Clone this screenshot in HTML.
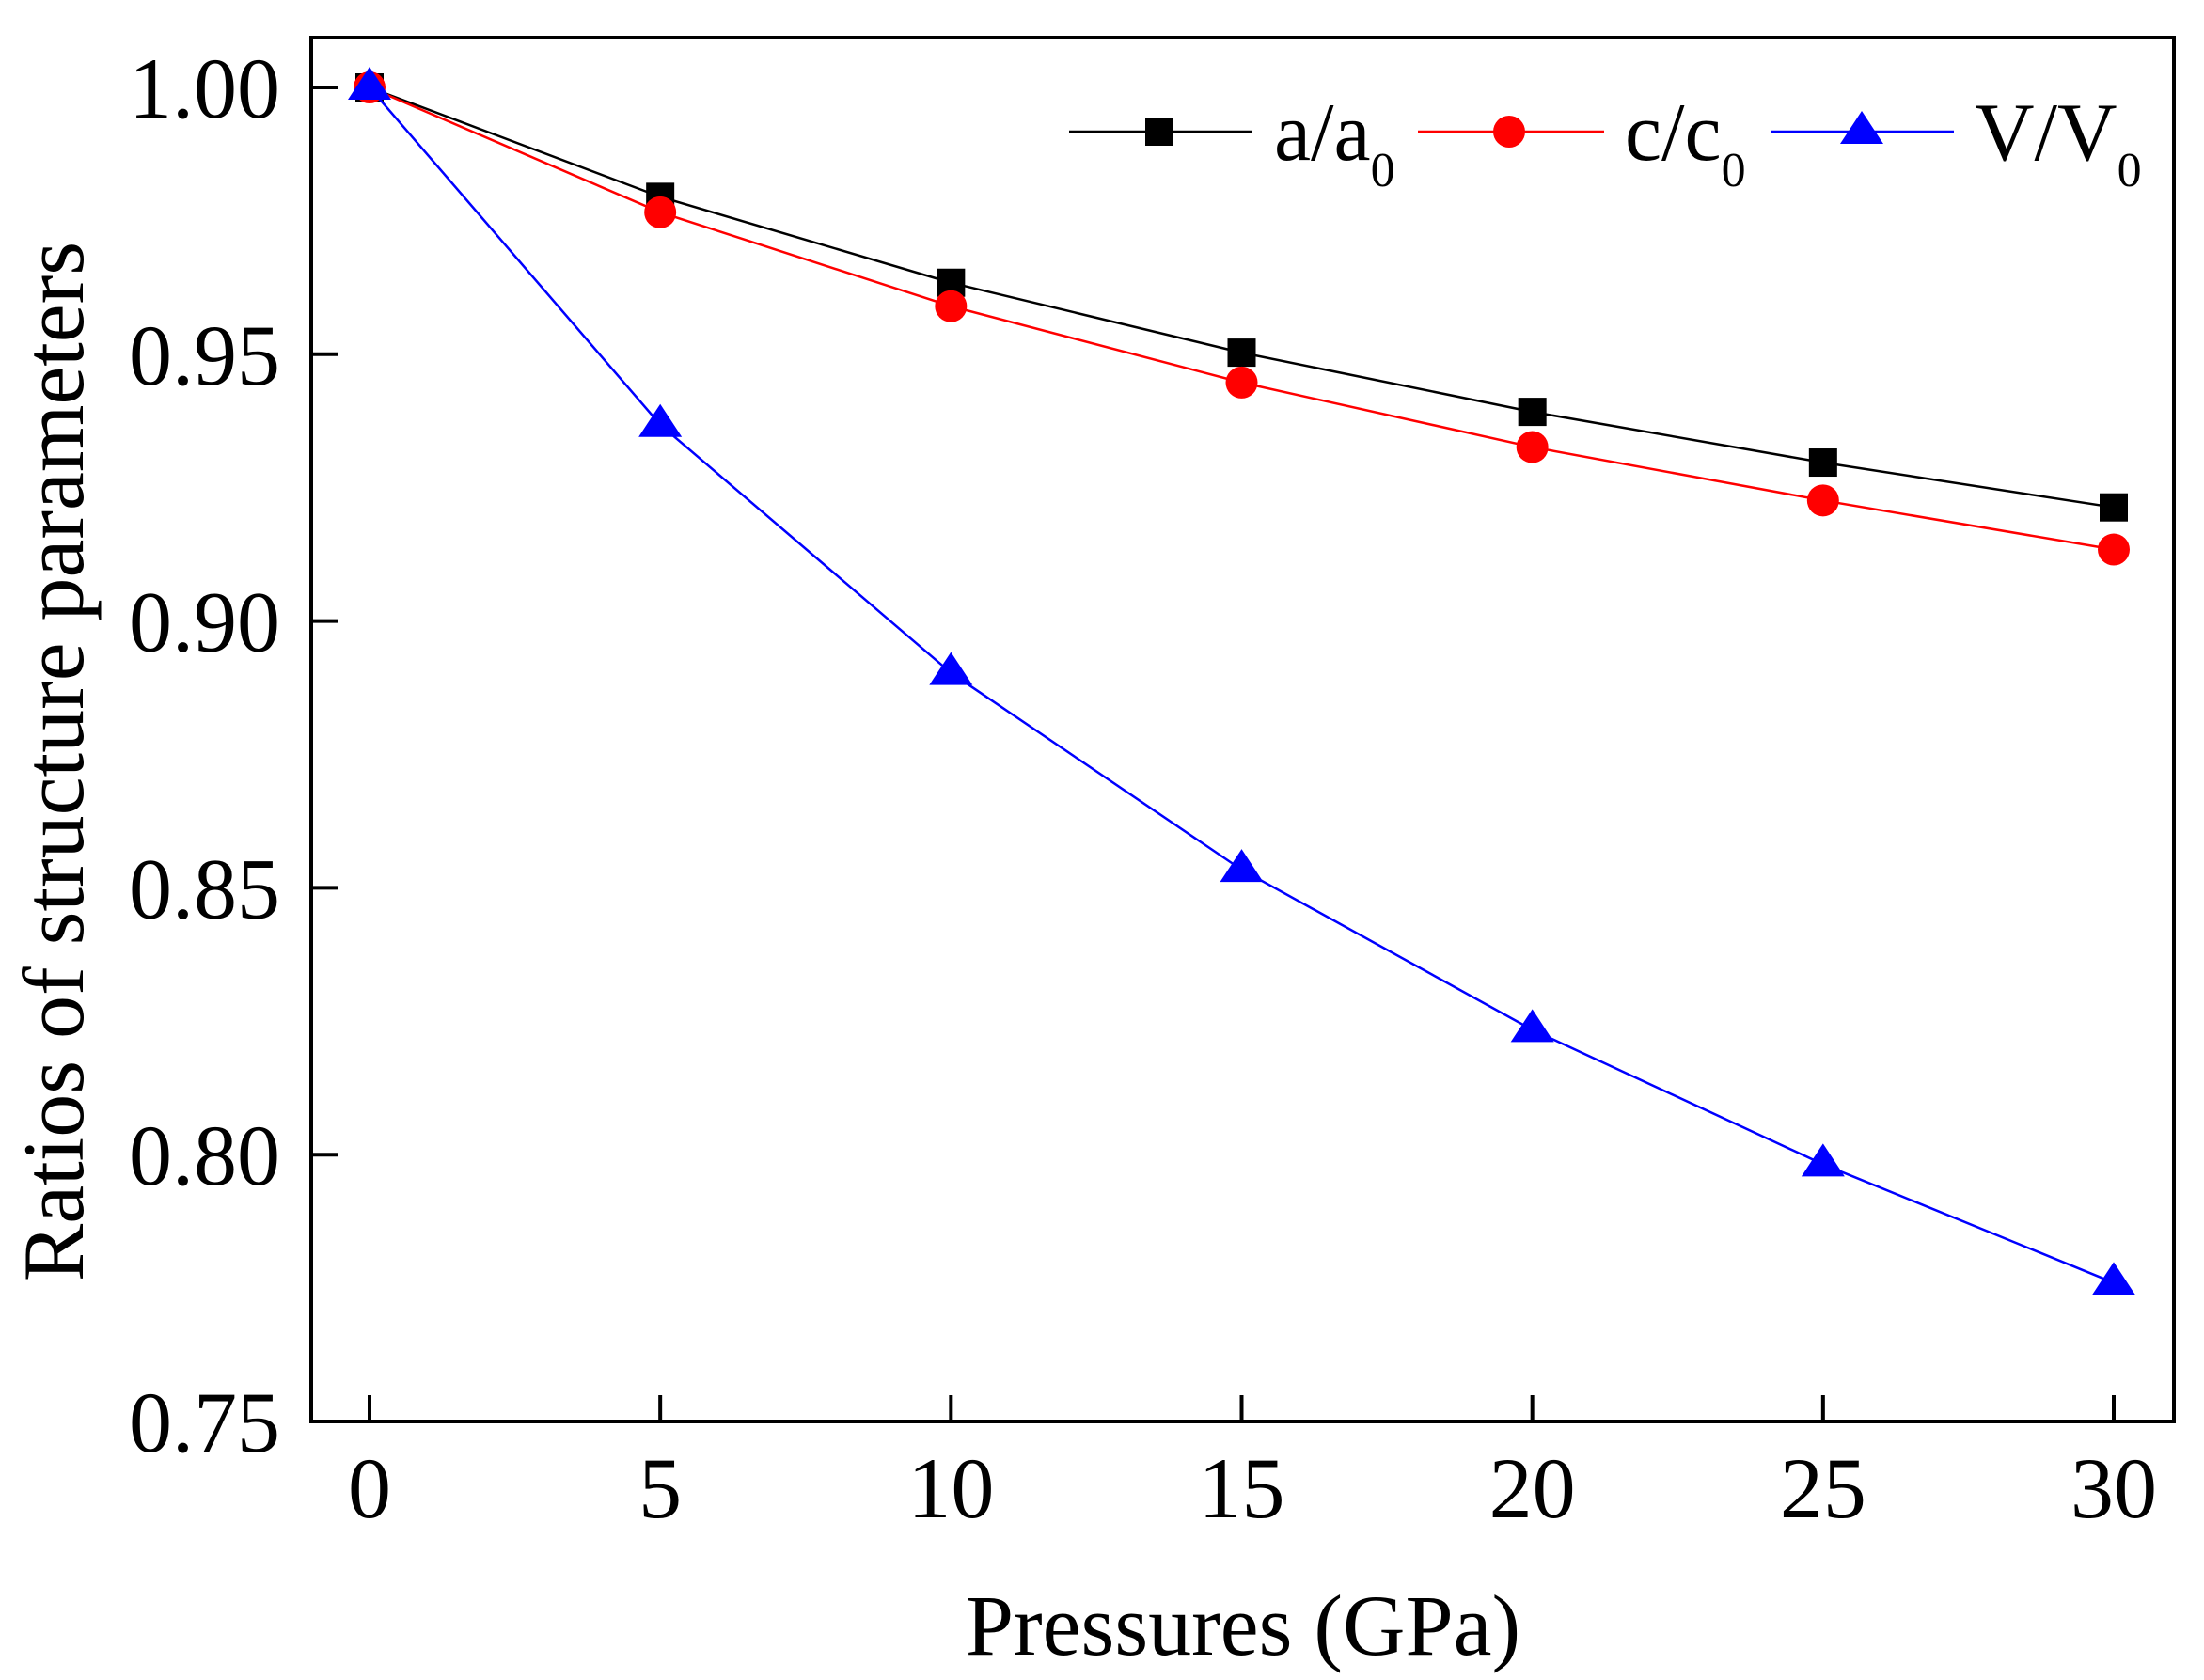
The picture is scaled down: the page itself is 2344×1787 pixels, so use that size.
<!DOCTYPE html>
<html><head><meta charset="utf-8"><style>
html,body{margin:0;padding:0;background:#fff;}
svg{display:block;font-family:"Liberation Serif",serif;}
</style></head><body>
<svg id="chart" width="2344" height="1787" viewBox="0 0 2344 1787">
<rect x="331" y="40" width="1981" height="1472" fill="none" stroke="#000" stroke-width="4"/>
<g id="axes"></g>
<g id="series"></g>
<text x="1322" y="1760" font-size="92" text-anchor="middle">Pressures (GPa)</text>
<text transform="translate(88,810) rotate(-90)" font-size="92" text-anchor="middle">Ratios of structure parameters</text>
<g>
<line x1="1137" y1="140" x2="1332" y2="140" stroke="#000" stroke-width="2.5"/>
<rect x="1218" y="125" width="30" height="30" fill="#000"/>
<text x="1355" y="170" font-size="88">a/a<tspan font-size="52" dy="28">0</tspan></text>
<line x1="1508" y1="140" x2="1706" y2="140" stroke="#f00" stroke-width="2.5"/>
<circle cx="1605" cy="140" r="17" fill="#f00"/>
<text x="1728" y="170" font-size="88">c/c<tspan font-size="52" dy="28">0</tspan></text>
<line x1="1883" y1="140" x2="2078" y2="140" stroke="#00f" stroke-width="2.5"/>
<polygon points="1980,118 2003,153 1957,153" fill="#00f"/>
<text x="2100" y="170" font-size="88">V/V<tspan font-size="52" dy="28">0</tspan></text>
</g>
</svg>
<script>
const pressures = [0, 5, 10, 15, 20, 25, 30];
const aRatio = [1.000, 0.9795, 0.9634, 0.9503, 0.9392, 0.9297, 0.9213];
const cRatio = [1.000, 0.9766, 0.959, 0.9447, 0.9326, 0.9226, 0.9134];
const vRatio = [1.000, 0.9368, 0.8903, 0.8534, 0.8234, 0.7982, 0.776];
const xTicks = [0, 5, 10, 15, 20, 25, 30];
const yTicks = [0.75, 0.80, 0.85, 0.90, 0.95, 1.00];
const yTickLabels = ["0.75", "0.80", "0.85", "0.90", "0.95", "1.00"];

const NS = "http://www.w3.org/2000/svg";
function xs(v){ return 393 + (v - 0) * (2248 - 393) / 30; }
function ys(v){ return 1512 - (v - 0.75) * (1512 - 93) / 0.25; }
function mk(tag, attrs, parent){ const e = document.createElementNS(NS, tag); for (const k in attrs) e.setAttribute(k, attrs[k]); parent.appendChild(e); return e; }

const axes = document.getElementById('axes');
xTicks.forEach(t => {
  const l = mk('line', {x1: xs(t), x2: xs(t), y1: 1512, y2: 1484, stroke: '#000', 'stroke-width': 4}, axes);
  
  
  const tx = mk('text', {x: xs(t), y: 1614, 'font-size': 92, 'text-anchor': 'middle'}, axes);
  tx.textContent = t;
  
  
});
yTicks.forEach((t, i) => {
  const l = mk('line', {x1: 331, x2: 359, y1: ys(t), y2: ys(t), stroke: '#000', 'stroke-width': 4}, axes);
  
  
  const tx = mk('text', {x: 298, y: ys(t) + 32, 'font-size': 92, 'text-anchor': 'end'}, axes);
  tx.textContent = yTickLabels[i];
  
  
});

const series = document.getElementById('series');
function drawSeries(vals, color, shape, name){
  const pl = mk('polyline', {points: vals.map((v, i) => xs(pressures[i]) + ',' + ys(v)).join(' '), fill: 'none', stroke: color, 'stroke-width': 2.5}, series);
  
  
  vals.forEach((v, i) => {
    const x = xs(pressures[i]), y = ys(v);
    let m;
    if (shape === 'square') m = mk('rect', {x: x - 15, y: y - 15, width: 30, height: 30, fill: color}, series);
    else if (shape === 'circle') m = mk('circle', {cx: x, cy: y, r: 17, fill: color}, series);
    else m = mk('polygon', {points: `${x},${y-22} ${x+23},${y+13} ${x-23},${y+13}`, fill: color}, series);
    
    
  });
}
drawSeries(aRatio, '#000', 'square', 'a-ratio');
drawSeries(cRatio, '#f00', 'circle', 'c-ratio');
drawSeries(vRatio, '#00f', 'triangle', 'v-ratio');
</script>
</body></html>
